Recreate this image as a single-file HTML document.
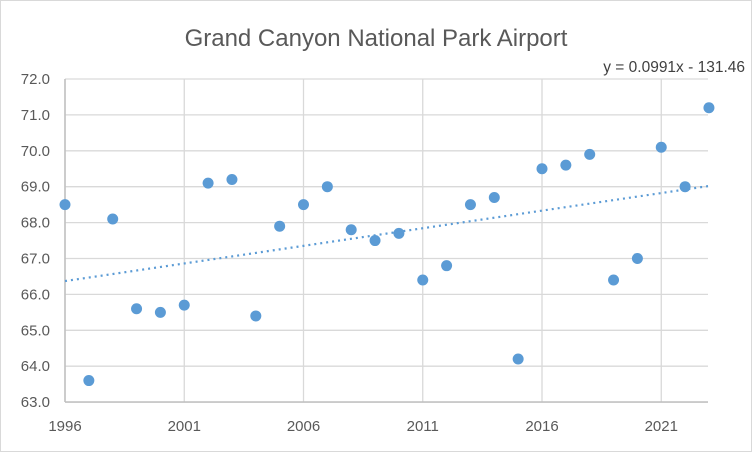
<!DOCTYPE html>
<html><head><meta charset="utf-8"><style>body{margin:0;background:#fff}svg{display:block}</style></head><body>
<svg width="752" height="452" xmlns="http://www.w3.org/2000/svg" font-family="Liberation Sans, sans-serif">
<rect x="0.5" y="0.5" width="751" height="451" fill="#fff" stroke="#d9d9d9"/>
<text x="376" y="46" text-anchor="middle" font-size="24" fill="#595959">Grand Canyon National Park Airport</text>
<g stroke="#d9d9d9" stroke-width="1.3" id="grid"></g>
<g id="labels" font-size="15" fill="#595959"></g>
<line x1="65" y1="79" x2="65" y2="402" stroke="#bfbfbf" stroke-width="1.5"/>
<line x1="65" y1="402" x2="708" y2="402" stroke="#bfbfbf" stroke-width="1.5"/>
<line id="trend" stroke="#5b9bd5" stroke-width="2.2" stroke-dasharray="2 4" stroke-linecap="butt"/>
<g id="pts" fill="#5b9bd5"></g>
<text x="745" y="72" text-anchor="end" font-size="15.5" fill="#404040">y = 0.0991x - 131.46</text>
</svg>
<script>
const X=y=>65+(y-1996)*23.85, Y=v=>79+(72-v)*35.9, ns="http://www.w3.org/2000/svg";
const g=document.getElementById('grid'),l=document.getElementById('labels'),p=document.getElementById('pts');
function el(t,a,par){const e=document.createElementNS(ns,t);for(const k in a)e.setAttribute(k,a[k]);par.appendChild(e);return e;}
for(let v=63;v<=72;v++){el('line',{x1:65,x2:708,y1:Y(v),y2:Y(v)},g);const t=el('text',{x:50,y:Y(v)+5,'text-anchor':'end'},l);t.textContent=v.toFixed(1);}
for(let y=1996;y<=2021;y+=5){el('line',{x1:X(y),x2:X(y),y1:79,y2:402},g);const t=el('text',{x:X(y),y:431,'text-anchor':'middle'},l);t.textContent=y;}
const d=[68.5,63.6,68.1,65.6,65.5,65.7,69.1,69.2,65.4,67.9,68.5,69.0,67.8,67.5,67.7,66.4,66.8,68.5,68.7,64.2,69.5,69.6,69.9,66.4,67.0,70.1,69.0,71.2];
d.forEach((v,i)=>el('circle',{cx:X(1996+i),cy:Y(v),r:5.5},p));
const tr=document.getElementById('trend'),f=x=>0.0991*x-131.46;
tr.setAttribute('x1',X(1996));tr.setAttribute('y1',Y(f(1996))-1);tr.setAttribute('x2',X(2023));tr.setAttribute('y2',Y(f(2023)));
</script>
</body></html>
